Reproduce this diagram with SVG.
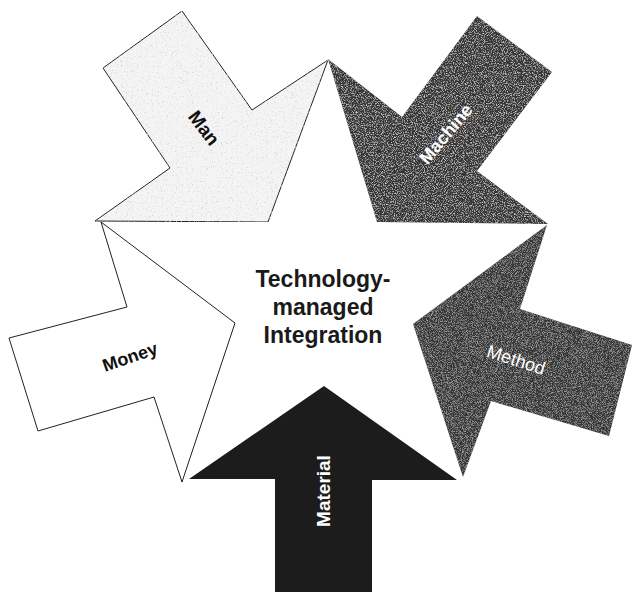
<svg xmlns="http://www.w3.org/2000/svg" width="633" height="592" viewBox="0 0 633 592">
<defs>
<style>
.lbl{font-family:"Liberation Sans",Arial,sans-serif;font-weight:bold;text-anchor:middle;dominant-baseline:central}
.ctr{font-family:"Liberation Sans",Arial,sans-serif;font-weight:bold;font-size:23px;text-anchor:middle;fill:#1a1a1a}
.outline{stroke:#222;stroke-width:1;stroke-linejoin:miter}
</style>
<filter id="specLight" x="0" y="0" width="1" height="1">
<feTurbulence type="fractalNoise" baseFrequency="0.8" numOctaves="2" seed="4" result="n"/>
<feColorMatrix in="n" type="matrix" values="0 0 0 0 0.6  0 0 0 0 0.6  0 0 0 0 0.6  4 0 0 0 -2.4" result="d"/>
<feComposite in="d" in2="SourceGraphic" operator="in" result="dc"/>
<feMerge><feMergeNode in="SourceGraphic"/><feMergeNode in="dc"/></feMerge>
</filter>
<filter id="specDark" x="0" y="0" width="1" height="1">
<feTurbulence type="fractalNoise" baseFrequency="0.9" numOctaves="2" seed="7" result="n"/>
<feColorMatrix in="n" type="matrix" values="0 0 0 0 0.72  0 0 0 0 0.72  0 0 0 0 0.72  2.6 0 0 0 -1.25" result="w"/>
<feComposite in="w" in2="SourceGraphic" operator="in" result="wc"/>
<feMerge><feMergeNode in="SourceGraphic"/><feMergeNode in="wc"/></feMerge>
</filter>
<filter id="specMid" x="0" y="0" width="1" height="1">
<feTurbulence type="fractalNoise" baseFrequency="1.2" numOctaves="1" seed="2" result="n"/>
<feColorMatrix in="n" type="matrix" values="0 0 0 0 0.55  0 0 0 0 0.55  0 0 0 0 0.55  2 0 0 0 -0.9" result="w"/>
<feComposite in="w" in2="SourceGraphic" operator="in" result="wc"/>
<feMerge><feMergeNode in="SourceGraphic"/><feMergeNode in="wc"/></feMerge>
</filter>
</defs>
<rect width="633" height="592" fill="#ffffff"/>

<g id="man">
<polygon class="outline" points="182,11 103,68 170,168 95,221 268,222 328,60 252,110" fill="#f4f4f4" filter="url(#specLight)"/>
<text class="lbl" font-size="19" fill="#111" transform="translate(204,128) rotate(53)">Man</text>
</g>

<g id="machine">
<polygon points="328,59 402,117 477,16 552,72 477,171 548,224 377,222" fill="#353535" filter="url(#specDark)"/>
<text class="lbl" font-size="18" fill="#ffffff" transform="translate(446,134) rotate(-50)">Machine</text>
</g>

<g id="method">
<polygon points="547,225 520,309 632,345 609,436 491,401 463,477 413,324" fill="#363636" filter="url(#specMid)"/>
<text class="lbl" font-size="18" style="font-weight:normal" fill="#ffffff" transform="translate(516,360) rotate(18)">Method</text>
</g>

<g id="material">
<polygon points="324,386 457,480 372,480 372,592 275,592 275,479 189,479" fill="#1c1c1c"/>
<text class="lbl" font-size="19" fill="#ffffff" transform="translate(323,491) rotate(-90)">Material</text>
</g>

<g id="money">
<polygon class="outline" points="101,222 127,307 9,338 38,431 154,397 182,482 235,323" fill="#ffffff"/>
<text class="lbl" font-size="18" fill="#111" transform="translate(130,357) rotate(-19)">Money</text>
</g>

<g id="center">
<text class="ctr" x="323" y="287">Technology-</text>
<text class="ctr" x="323" y="315">managed</text>
<text class="ctr" x="323" y="343">Integration</text>
</g>

<g id="connectors"></g>
</svg>
